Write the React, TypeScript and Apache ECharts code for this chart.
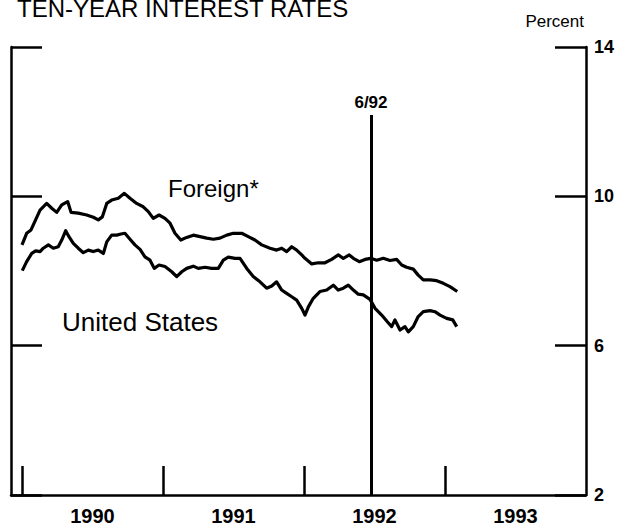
import React, { useEffect, useRef } from "react";
import * as echarts from "echarts";

// Decimal-year sample dates and values (percent)
const foreignT = [1990.0, 1990.033, 1990.064, 1990.128, 1990.175, 1990.211, 1990.246, 1990.282, 1990.324, 1990.348, 1990.399, 1990.459, 1990.506, 1990.541, 1990.57, 1990.601, 1990.636, 1990.683, 1990.726, 1990.766, 1990.813, 1990.86, 1990.896, 1990.931, 1990.972, 1991.014, 1991.05, 1991.085, 1991.126, 1991.168, 1991.215, 1991.262, 1991.31, 1991.357, 1991.404, 1991.452, 1991.499, 1991.558, 1991.605, 1991.652, 1991.7, 1991.759, 1991.806, 1991.842, 1991.877, 1991.913, 1991.948, 1991.984, 1992.007, 1992.055, 1992.101, 1992.149, 1992.196, 1992.243, 1992.279, 1992.321, 1992.35, 1992.392, 1992.433, 1992.473, 1992.516, 1992.562, 1992.61, 1992.657, 1992.693, 1992.728, 1992.775, 1992.81, 1992.846, 1992.894, 1992.941, 1992.988, 1993.035, 1993.087];
const foreignV = [8.7, 9.01, 9.1, 9.63, 9.81, 9.68, 9.57, 9.77, 9.86, 9.57, 9.55, 9.5, 9.44, 9.37, 9.45, 9.81, 9.9, 9.95, 10.08, 9.95, 9.81, 9.72, 9.59, 9.41, 9.5, 9.41, 9.28, 9.01, 8.83, 8.9, 8.96, 8.92, 8.88, 8.85, 8.88, 8.96, 9.01, 9.01, 8.92, 8.83, 8.7, 8.61, 8.56, 8.61, 8.52, 8.65, 8.56, 8.43, 8.34, 8.19, 8.22, 8.22, 8.31, 8.43, 8.34, 8.43, 8.34, 8.25, 8.31, 8.34, 8.29, 8.34, 8.28, 8.31, 8.16, 8.1, 8.05, 7.89, 7.76, 7.76, 7.74, 7.67, 7.58, 7.45];

const usT = [1990.002, 1990.033, 1990.069, 1990.097, 1990.128, 1990.151, 1990.187, 1990.222, 1990.257, 1990.282, 1990.31, 1990.333, 1990.364, 1990.399, 1990.435, 1990.47, 1990.506, 1990.541, 1990.577, 1990.601, 1990.636, 1990.672, 1990.702, 1990.73, 1990.766, 1990.801, 1990.837, 1990.872, 1990.908, 1990.938, 1990.972, 1991.014, 1991.062, 1991.097, 1991.133, 1991.168, 1991.215, 1991.25, 1991.298, 1991.345, 1991.392, 1991.428, 1991.463, 1991.511, 1991.546, 1991.594, 1991.64, 1991.688, 1991.735, 1991.771, 1991.806, 1991.842, 1991.877, 1991.913, 1991.948, 1991.984, 1992.007, 1992.031, 1992.066, 1992.113, 1992.161, 1992.208, 1992.243, 1992.279, 1992.314, 1992.35, 1992.385, 1992.421, 1992.468, 1992.504, 1992.551, 1992.591, 1992.622, 1992.645, 1992.681, 1992.716, 1992.74, 1992.775, 1992.81, 1992.846, 1992.894, 1992.929, 1992.965, 1993.012, 1993.055, 1993.083];
const usV = [8.01, 8.25, 8.47, 8.54, 8.52, 8.61, 8.7, 8.61, 8.65, 8.83, 9.08, 8.92, 8.74, 8.61, 8.49, 8.56, 8.52, 8.56, 8.47, 8.78, 8.96, 8.96, 8.99, 9.01, 8.85, 8.7, 8.58, 8.38, 8.29, 8.07, 8.16, 8.12, 7.98, 7.85, 7.98, 8.07, 8.13, 8.07, 8.1, 8.07, 8.07, 8.29, 8.37, 8.34, 8.34, 8.07, 7.85, 7.71, 7.54, 7.6, 7.71, 7.49, 7.4, 7.31, 7.22, 7.0, 6.82, 7.04, 7.27, 7.45, 7.49, 7.62, 7.49, 7.54, 7.62, 7.49, 7.38, 7.36, 7.24, 7.0, 6.82, 6.64, 6.51, 6.69, 6.42, 6.51, 6.37, 6.51, 6.78, 6.91, 6.94, 6.91, 6.82, 6.73, 6.69, 6.51];

const yearTicks = [1990, 1991, 1992, 1993];
const yearLabels = [1990.5, 1991.5, 1992.5, 1993.5];
const yTicks = [2, 6, 10, 14];
const eventDate = 1992.475;
const eventLabel = "6/92";
const eventTop = 12.18;

const FONT = "'Liberation Sans', Arial, Helvetica, sans-serif";

export default function App() {
  const ref = useRef<HTMLDivElement>(null);
  useEffect(() => {
    if (!ref.current) return;
    const chart = echarts.init(ref.current, undefined, { renderer: "svg" });
    const lineCol = "#000";
    chart.setOption({
      animation: false,
      backgroundColor: "#fff",
      title: {
        text: "TEN-YEAR INTEREST RATES",
        left: 12,
        top: -9,
        textStyle: { fontFamily: FONT, fontSize: 24, fontWeight: "normal", color: "#000" },
      },
      graphic: [
        { type: "text", left: 168, top: 176, style: { text: "Foreign*", font: `normal 24px ${FONT}`, fill: "#000" } },
        { type: "text", left: 62, top: 309, style: { text: "United States", font: `normal 26px ${FONT}`, fill: "#000" } },
      ],
      grid: { left: 11, right: 43, top: 47, bottom: 34, containLabel: false },
      xAxis: {
        type: "value",
        min: 1989.922,
        max: 1994,
        axisLine: { show: true, lineStyle: { color: lineCol, width: 2.5 } },
        axisTick: { show: true, inside: true, length: 29, customValues: yearTicks, lineStyle: { color: lineCol, width: 2.5 } },
        axisLabel: {
          customValues: yearLabels,
          formatter: (v: number) => String(Math.floor(v)),
          fontFamily: FONT,
          fontSize: 20,
          fontWeight: "bold",
          color: "#000",
          margin: 11,
        },
        splitLine: { show: false },
      },
      yAxis: [
        {
          type: "value",
          position: "right",
          min: 2,
          max: 14,
          name: "Percent",
          nameLocation: "end",
          nameGap: 17,
          nameTextStyle: { fontFamily: FONT, fontSize: 17, color: "#000", align: "right", padding: [0, 2, 0, 0] },
          axisLine: { show: true, lineStyle: { color: lineCol, width: 2.5 } },
          axisTick: { show: true, inside: true, length: 31, customValues: yTicks, lineStyle: { color: lineCol, width: 2.5 } },
          axisLabel: { customValues: yTicks, fontFamily: FONT, fontSize: 18, fontWeight: "bold", color: "#000", margin: 8 },
          splitLine: { show: false },
        },
        {
          type: "value",
          position: "left",
          min: 2,
          max: 14,
          axisLine: { show: true, lineStyle: { color: lineCol, width: 2.5 } },
          axisTick: { show: true, inside: true, length: 31, customValues: yTicks, lineStyle: { color: lineCol, width: 2.5 } },
          axisLabel: { show: false },
          splitLine: { show: false },
        },
      ],
      series: [
        {
          name: "Foreign*",
          type: "line",
          data: foreignT.map((t, i) => [t, foreignV[i]]),
          showSymbol: false,
          lineStyle: { color: "#000", width: 3.2, join: "round" },
          markLine: {
            silent: true,
            symbol: "none",
            lineStyle: { color: "#000", width: 3, type: "solid" },
            label: { show: true, position: "start", formatter: eventLabel, fontFamily: FONT, fontSize: 17, fontWeight: "bold", color: "#000", distance: 4 },
            data: [[{ coord: [eventDate, eventTop] }, { coord: [eventDate, 2] }]],
          },
        },
        {
          name: "United States",
          type: "line",
          data: usT.map((t, i) => [t, usV[i]]),
          showSymbol: false,
          lineStyle: { color: "#000", width: 3.2, join: "round" },
        },
      ],
    });
    return () => chart.dispose();
  }, []);
  return <div ref={ref} style={{ position: "fixed", left: 0, top: 0, width: 629, height: 529 }} />;
}
